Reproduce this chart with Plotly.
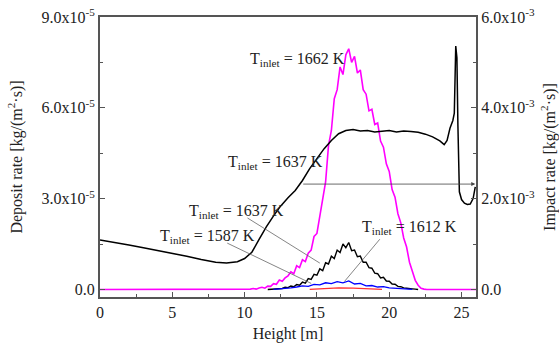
import plotly.graph_objects as go

# ---------------- data ----------------
# Impact rate, T_inlet = 1637 K (right axis, units 1e-3 kg/(m2 s))
imp_h = [0.0, 1.0, 2.0, 3.0, 4.0, 5.0, 6.0, 7.0, 8.0, 8.75, 9.5, 10.0, 10.5, 11.0, 11.5,
         12.0, 12.5, 13.0, 13.5, 14.0, 14.5, 15.0, 15.5, 16.0, 16.5, 17.0, 17.5, 18.0,
         18.5, 19.0, 19.5, 20.0, 20.5, 21.0, 21.5, 22.0, 22.5, 23.0, 23.5, 23.8, 24.0,
         24.2, 24.4, 24.5, 24.6, 24.68, 24.75, 24.85, 25.0, 25.2, 25.4, 25.6, 25.8, 25.95]
imp_v = [1.09, 1.04, 0.98, 0.92, 0.86, 0.80, 0.73, 0.66, 0.60, 0.58, 0.61, 0.68, 0.82, 1.10, 1.38,
         1.62, 1.84, 2.02, 2.18, 2.40, 2.66, 2.88, 3.10, 3.28, 3.43, 3.50, 3.52, 3.49,
         3.50, 3.47, 3.49, 3.50, 3.47, 3.49, 3.48, 3.46, 3.42, 3.36, 3.27, 3.19, 3.28,
         3.55, 3.72, 3.88, 5.36, 5.10, 3.60, 2.15, 1.98, 1.90, 1.87, 1.88, 2.00, 2.26]

# Deposit rate, T_inlet = 1662 K (left axis, units 1e-5 kg/(m2 s))
mag_h = [0.0, 10.0, 10.2, 10.4, 10.6, 10.8, 11.0, 11.2, 11.4, 11.6, 11.8, 12.0, 12.2, 12.4,
         12.6, 12.8, 13.0, 13.2, 13.4, 13.6, 13.8, 14.0, 14.2, 14.4, 14.6, 14.8, 15.0, 15.2,
         15.4, 15.6, 15.8, 16.0, 16.2, 16.4, 16.6, 16.8, 17.0, 17.2, 17.4, 17.6, 17.8, 18.0,
         18.2, 18.4, 18.6, 18.8, 19.0, 19.2, 19.4, 19.6, 19.8, 20.0, 20.2, 20.4, 20.6, 20.8,
         21.0, 21.2, 21.4, 21.6, 21.8, 22.0, 22.2, 22.4, 22.6, 26.0]
mag_v = [0.0, 0.00, 0.00, 0.01, 0.03, 0.01, 0.05, 0.07, 0.04, 0.11, 0.10, 0.19, 0.17, 0.31,
         0.27, 0.38, 0.45, 0.58, 0.52, 0.78, 0.72, 0.98, 0.92, 1.20, 1.30, 1.75, 1.85, 2.45,
         3.10, 3.55, 4.75, 5.25, 6.30, 6.60, 7.35, 7.10, 7.75, 7.95, 7.50, 7.70, 7.15, 7.25,
         6.60, 6.45, 5.90, 5.95, 5.45, 5.50, 4.90, 4.70, 4.15, 3.90, 3.30, 3.05, 2.50, 2.20,
         1.70, 1.40, 0.90, 0.60, 0.30, 0.14, 0.04, 0.01, 0.00, 0.0]

# Deposit rate, T_inlet = 1637 K
blk_h = [11.6, 11.8, 12.0, 12.2, 12.4, 12.6, 12.8, 13.0, 13.2, 13.4, 13.6, 13.8, 14.0, 14.2,
         14.4, 14.6, 14.8, 15.0, 15.2, 15.4, 15.6, 15.8, 16.0, 16.2, 16.4, 16.6, 16.8, 17.0,
         17.2, 17.4, 17.6, 17.8, 18.0, 18.2, 18.4, 18.6, 18.8, 19.0, 19.2, 19.4, 19.6, 19.8,
         20.0, 20.2, 20.4, 20.6, 20.8, 21.0, 21.2, 21.4, 21.6, 21.8, 22.0]
blk_v = [0.00, 0.01, 0.02, 0.01, 0.04, 0.03, 0.07, 0.06, 0.11, 0.09, 0.16, 0.14, 0.24, 0.21,
         0.36, 0.33, 0.50, 0.47, 0.68, 0.62, 0.88, 0.84, 1.10, 1.02, 1.30, 1.22, 1.50, 1.38,
         1.55, 1.28, 1.30, 1.08, 1.10, 0.90, 0.90, 0.72, 0.70, 0.54, 0.52, 0.38, 0.40, 0.28,
         0.27, 0.18, 0.17, 0.10, 0.09, 0.05, 0.04, 0.02, 0.02, 0.01, 0.00]

# Deposit rate, T_inlet = 1612 K
blu_h = [12.0, 12.4, 12.8, 13.2, 13.6, 14.0, 14.4, 14.8, 15.2, 15.6, 16.0, 16.4, 16.8, 17.2,
         17.6, 18.0, 18.4, 18.8, 19.2, 19.6, 20.0, 20.4, 20.8, 21.2, 21.6]
blu_v = [0.00, 0.01, 0.03, 0.05, 0.08, 0.12, 0.10, 0.17, 0.15, 0.22, 0.19, 0.26, 0.22, 0.28,
         0.18, 0.20, 0.12, 0.13, 0.08, 0.09, 0.05, 0.04, 0.02, 0.01, 0.00]

# Deposit rate, T_inlet = 1587 K
red_h = [14.5, 15.5, 16.5, 17.5, 18.5, 19.5]
red_v = [0.00, 0.03, 0.05, 0.04, 0.02, 0.00]

left_ticks = [0, 3, 6, 9]
left_text = ["0.0", "3.0x10<sup>-5</sup>", "6.0x10<sup>-5</sup>", "9.0x10<sup>-5</sup>"]
right_ticks = [0, 2, 4, 6]
right_text = ["0.0", "2.0x10<sup>-3</sup>", "4.0x10<sup>-3</sup>", "6.0x10<sup>-3</sup>"]
x_ticks = [0, 5, 10, 15, 20, 25]

FONT = "Liberation Serif, Times New Roman, serif"

fig = go.Figure()
fig.add_trace(go.Scatter(x=mag_h, y=mag_v, mode="lines", line=dict(color="#FF00FF", width=1.6),
                         yaxis="y"))
fig.add_trace(go.Scatter(x=blk_h, y=blk_v, mode="lines", line=dict(color="black", width=1.4),
                         yaxis="y"))
fig.add_trace(go.Scatter(x=red_h, y=red_v, mode="lines", line=dict(color="#FF3030", width=1.2),
                         yaxis="y"))
fig.add_trace(go.Scatter(x=blu_h, y=blu_v, mode="lines", line=dict(color="#0000FF", width=1.3),
                         yaxis="y"))
fig.add_trace(go.Scatter(x=imp_h, y=imp_v, mode="lines", line=dict(color="black", width=1.5),
                         yaxis="y2"))

axis_col = "#555555"
tick_font = dict(family=FONT, size=16, color="#222")
fig.update_layout(
    width=559, height=343,
    margin=dict(l=100, r=83, t=17, b=46),
    paper_bgcolor="white", plot_bgcolor="white",
    showlegend=False,
    font=dict(family=FONT, size=15, color="#222"),
    xaxis=dict(range=[0, 26], tickvals=x_ticks, ticks="inside", ticklen=5, tickcolor=axis_col,
               tickfont=tick_font, automargin=False,
               showline=True, linecolor=axis_col, linewidth=2, mirror=True, showgrid=False,
               zeroline=False, title=dict(text="Height [m]", font=dict(family=FONT, size=16)),
               minor=dict(ticks="inside", ticklen=3, dtick=2.5, tickcolor=axis_col)),
    yaxis=dict(range=[-0.25, 9.0], tickvals=left_ticks, ticktext=left_text, ticks="inside",
               tickfont=tick_font, automargin=False,
               ticklen=5, tickcolor=axis_col, showline=True, linecolor=axis_col, linewidth=2,
               showgrid=False, zeroline=False,
               title=dict(text="Deposit rate [kg/(m<sup>2</sup>·s)]", font=dict(family=FONT, size=16)),
               minor=dict(ticks="inside", ticklen=3, tickvals=[1.5, 4.5, 7.5], tickcolor=axis_col)),
    yaxis2=dict(range=[-0.1667, 6.0], overlaying="y", side="right", tickvals=right_ticks,
                ticktext=right_text, ticks="inside", ticklen=5, tickcolor=axis_col,
                tickfont=tick_font, automargin=False,
                showline=True, linecolor=axis_col, linewidth=2, showgrid=False, zeroline=False,
                title=dict(text="Impact rate [kg/(m<sup>2</sup>·s)]", font=dict(family=FONT, size=16)),
                minor=dict(ticks="inside", ticklen=3, tickvals=[1, 3, 5], tickcolor=axis_col)),
)

def lbl(T):
    return "T<sub>inlet</sub> = %d K" % T

ann_font = dict(family=FONT, size=16, color="#222")
fig.add_annotation(x=10.2, y=7.6, xref="x", yref="y", text=lbl(1662), showarrow=False,
                   xanchor="left", font=ann_font)
fig.add_annotation(x=8.7, y=4.2, xref="x", yref="y", text=lbl(1637), showarrow=False,
                   xanchor="left", font=ann_font)
fig.add_annotation(x=6.0, y=2.58, xref="x", yref="y", text=lbl(1637), showarrow=False,
                   xanchor="left", font=ann_font)
fig.add_annotation(x=4.0, y=1.74, xref="x", yref="y", text=lbl(1587), showarrow=False,
                   xanchor="left", font=ann_font)
fig.add_annotation(x=18.0, y=2.03, xref="x", yref="y", text=lbl(1612), showarrow=False,
                   xanchor="left", font=ann_font)

fig.add_annotation(x=25.95, y=2.32, xref="x", yref="y2", ax=13.95, ay=2.32, axref="x", ayref="y2",
                   text="", showarrow=True, arrowhead=2, arrowsize=1, arrowwidth=0.8,
                   arrowcolor="#444")
for (x0, y0, x1, y1) in [(10.2, 2.36, 15.2, 0.87), (8.8, 1.53, 14.6, 0.2), (19.35, 1.66, 16.9, 0.26)]:
    fig.add_shape(type="line", x0=x0, y0=y0, x1=x1, y1=y1, xref="x", yref="y",
                  line=dict(color="#666", width=0.8))

fig.write_html("out.html")
